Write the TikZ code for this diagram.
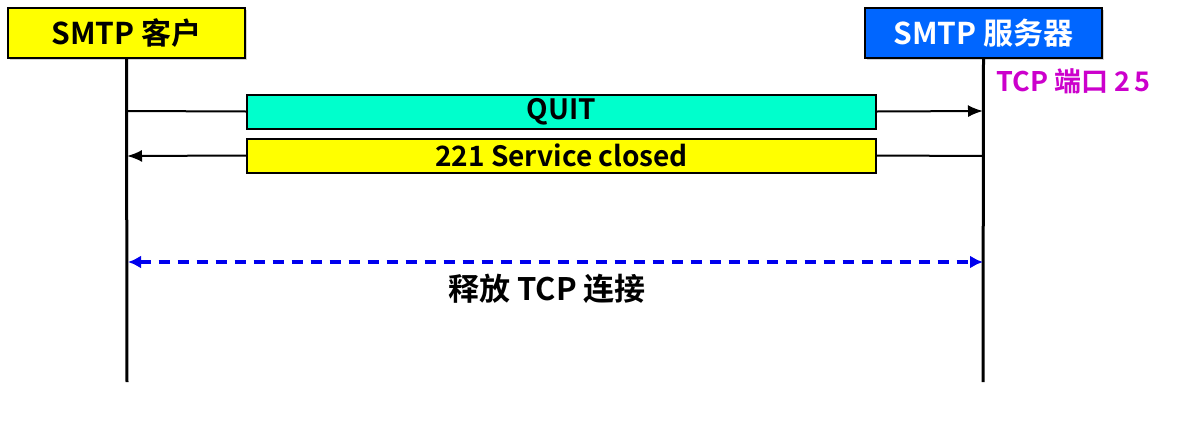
\documentclass[tikz,border=0pt]{standalone}
\usepackage{fontspec}
\setmainfont{Noto Sans CJK SC}[BoldFont={Noto Sans CJK SC Bold}]
\usetikzlibrary{arrows.meta,shadows}
\definecolor{boxyellow}{HTML}{FFFF00}
\definecolor{boxblue}{HTML}{0066FF}
\definecolor{msgcyan}{HTML}{00FFCC}
\definecolor{portmag}{HTML}{CC00CC}
\definecolor{relblue}{HTML}{0000EE}
\tikzset{
  party/.style={draw=black, line width=2pt, minimum width=237pt, minimum height=50pt, inner sep=0pt,
    font=\fontsize{30}{34}\selectfont\bfseries, drop shadow={shadow xshift=2pt, shadow yshift=-2pt, opacity=0.35}},
  msgbox/.style={draw=black, line width=2pt, minimum width=629pt, minimum height=34pt, inner sep=0pt,
    font=\fontsize{28}{30}\selectfont\bfseries},
  life/.style={line width=3pt},
  msg/.style={line width=2pt},
  tip/.style={-{Latex[length=15pt,width=12pt]}},
}
\begin{document}
\begin{tikzpicture}[x=1pt,y=-1pt]
\useasboundingbox[fill=white] (0,0) rectangle (1179,426);
\node[party, fill=boxyellow] (client) at (126.5,33) {SMTP 客户};
\node[party, fill=boxblue, text=white] (server) at (983.5,33) {SMTP 服务器};
\coordinate (cb) at (127,382);
\coordinate (sb) at (983,382);
\draw[life] (client.south) -- (cb);
\draw[life] (server.south) -- (sb);
\node[anchor=west, text=portmag, font=\fontsize{27}{30}\selectfont\bfseries] (port) at (993,81) {TCP 端口 2\,5};
% QUIT
\coordinate (q1) at (127,111);
\coordinate (q2) at (983,111);
\node[msgbox, fill=msgcyan] (quit) at (561.5,111.5) {QUIT};
\draw[msg] (q1) -- (quit.west);
\draw[msg, tip] (quit.east) -- (q2);
% 221
\coordinate (r1) at (127,156);
\coordinate (r2) at (983,156);
\node[msgbox, fill=boxyellow] (closed) at (561.5,155.5) {221 Service closed};
\draw[msg] (r2) -- (closed.east);
\draw[msg, tip] (closed.west) -- (r1);
% release
\coordinate (d1) at (128,262);
\coordinate (d2) at (983,262);
\draw[relblue, line width=3.5pt, dash pattern=on 11pt off 8pt, {Latex[length=13pt,width=13pt]}-{Latex[length=13pt,width=13pt]}] (d1) -- (d2);
\node[font=\fontsize{31}{34}\selectfont\bfseries] (rel) at (547,289) {释放 TCP 连接};
\end{tikzpicture}
\end{document}
